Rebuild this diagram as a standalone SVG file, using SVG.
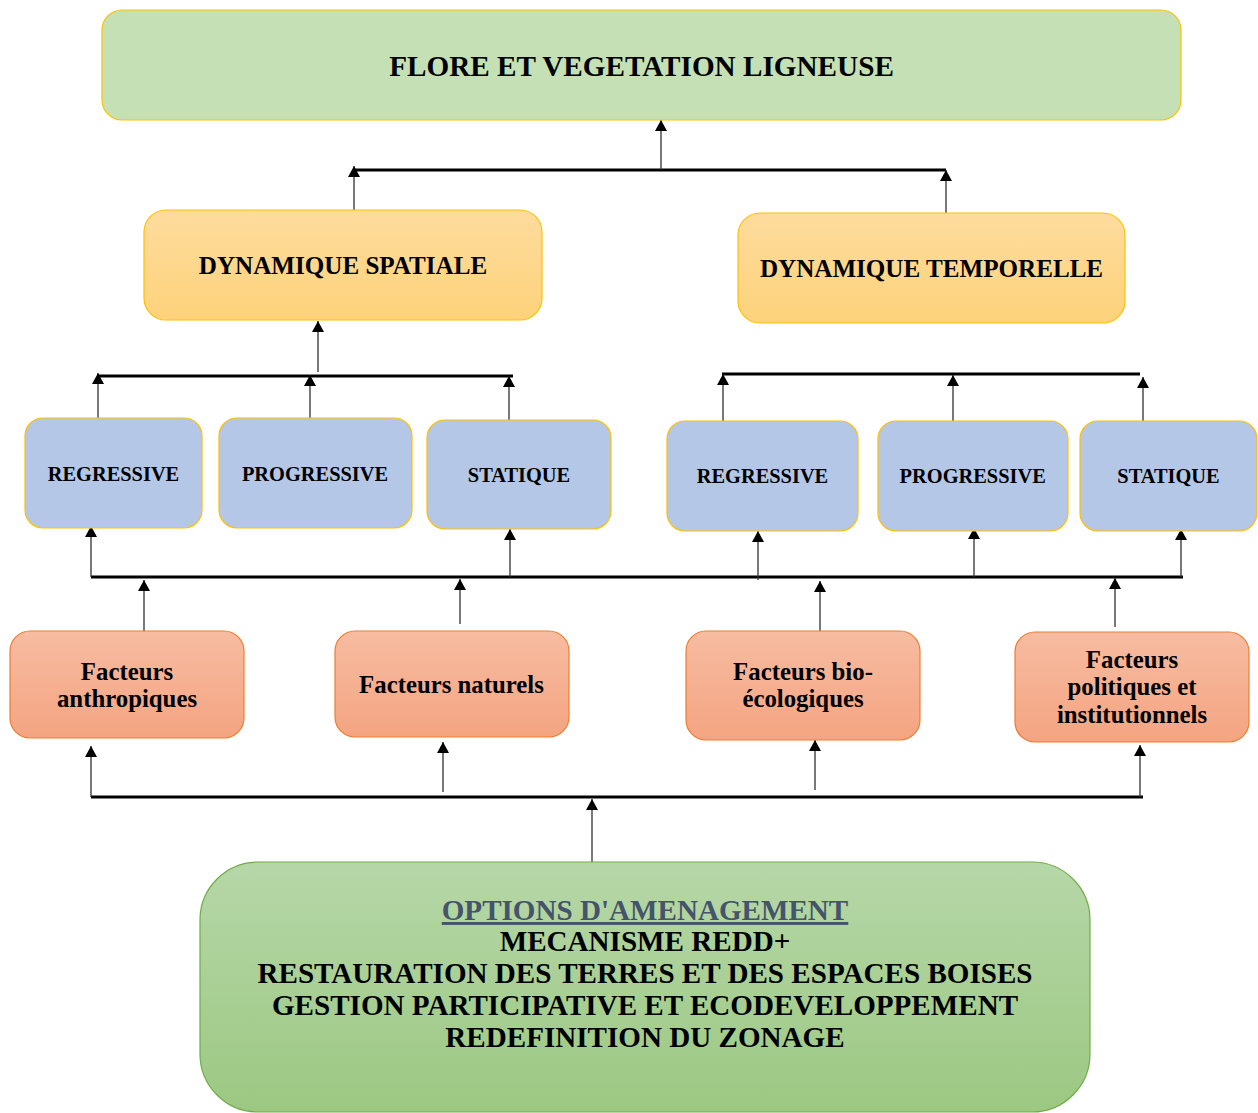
<svg xmlns="http://www.w3.org/2000/svg" width="1258" height="1113" viewBox="0 0 1258 1113">
<defs>
<linearGradient id="gOrange" x1="0" y1="0" x2="0" y2="1"><stop offset="0" stop-color="#fedc9e"/><stop offset="1" stop-color="#fdd27a"/></linearGradient>
<linearGradient id="gSalmon" x1="0" y1="0" x2="0" y2="1"><stop offset="0" stop-color="#f7bca1"/><stop offset="1" stop-color="#f4a481"/></linearGradient>
<linearGradient id="gGreen" x1="0" y1="0" x2="0" y2="1"><stop offset="0" stop-color="#b6d7a8"/><stop offset="1" stop-color="#9cc882"/></linearGradient>
<marker id="arr" viewBox="0 0 11 12" refX="11" refY="6" markerWidth="11" markerHeight="12" markerUnits="userSpaceOnUse" orient="auto"><path d="M0,0 L11,6 L0,12 z" fill="#000"/></marker>
<style>
.t{font-family:"Liberation Serif","Times New Roman",serif;font-weight:bold;fill:#000;text-anchor:middle}
.top{fill:#c5e0b4;stroke:#ffc000;stroke-width:1.2}
.dyn{fill:url(#gOrange);stroke:#ffc000;stroke-width:1.2}
.blue{fill:#b4c7e7;stroke:#ffc000;stroke-width:1.2}
.fac{fill:url(#gSalmon);stroke:#ed7d31;stroke-width:1.2}
.opt{fill:url(#gGreen);stroke:#70ad47;stroke-width:1.2}
.bus{stroke:#000;stroke-width:3.2;fill:none}
.ar{stroke:#303030;stroke-width:1.3;fill:none;marker-end:url(#arr)}
</style>
</defs>

<g id="connectors">
<line class="bus" x1="354" y1="170" x2="946" y2="170"/>
<line class="ar" x1="661" y1="170" x2="661" y2="120"/>
<line class="ar" x1="354" y1="216" x2="354" y2="166"/>
<line class="ar" x1="946" y1="220" x2="946" y2="170"/>

<line class="bus" x1="98" y1="376" x2="513" y2="376"/>
<line class="ar" x1="318" y1="372" x2="318" y2="321"/>
<line class="ar" x1="98" y1="422" x2="98" y2="373"/>
<line class="ar" x1="310" y1="425" x2="310" y2="375"/>
<line class="ar" x1="509" y1="426" x2="509" y2="376"/>

<line class="bus" x1="722" y1="374" x2="1140" y2="374"/>
<line class="ar" x1="723" y1="425" x2="723" y2="374"/>
<line class="ar" x1="953" y1="425" x2="953" y2="375"/>
<line class="ar" x1="1143" y1="427" x2="1143" y2="377"/>

<line class="bus" x1="91" y1="577" x2="1183" y2="577"/>
<line class="ar" x1="91" y1="577" x2="91" y2="526"/>
<line class="ar" x1="510" y1="577" x2="510" y2="529"/>
<line class="ar" x1="758" y1="580" x2="758" y2="531"/>
<line class="ar" x1="974" y1="577" x2="974" y2="528"/>
<line class="ar" x1="1181" y1="577" x2="1181" y2="529"/>
<line class="ar" x1="144" y1="631" x2="144" y2="580"/>
<line class="ar" x1="460" y1="624" x2="460" y2="579"/>
<line class="ar" x1="820" y1="631" x2="820" y2="581"/>
<line class="ar" x1="1115" y1="627" x2="1115" y2="578"/>

<line class="bus" x1="91" y1="797" x2="1143" y2="797"/>
<line class="ar" x1="91" y1="797" x2="91" y2="746"/>
<line class="ar" x1="443" y1="792" x2="443" y2="742"/>
<line class="ar" x1="815" y1="790" x2="815" y2="740"/>
<line class="ar" x1="1140" y1="797" x2="1140" y2="745"/>
<line class="ar" x1="592" y1="862" x2="592" y2="799"/>
</g>

<g id="n-flore">
<rect class="top" x="102" y="10" width="1079" height="110" rx="20"/>
<text class="t" x="641.5" y="76" font-size="29.2">FLORE ET VEGETATION LIGNEUSE</text>
</g>

<g id="n-spatiale">
<rect class="dyn" x="144" y="210" width="398" height="110" rx="22"/>
<text class="t" x="343" y="274" font-size="25.1">DYNAMIQUE SPATIALE</text>
</g>
<g id="n-temporelle">
<rect class="dyn" x="738" y="213" width="387" height="110" rx="22"/>
<text class="t" x="931.5" y="277" font-size="25.1">DYNAMIQUE TEMPORELLE</text>
</g>

<g id="n-s-regressive">
<rect class="blue" x="25" y="418" width="177" height="110" rx="18"/>
<text class="t" x="113.5" y="481" font-size="20.4">REGRESSIVE</text>
</g>
<g id="n-s-progressive">
<rect class="blue" x="219" y="418" width="193" height="110" rx="18"/>
<text class="t" x="315" y="481" font-size="20.4">PROGRESSIVE</text>
</g>
<g id="n-s-statique">
<rect class="blue" x="427" y="420" width="184" height="109" rx="18"/>
<text class="t" x="519" y="482" font-size="20.4">STATIQUE</text>
</g>
<g id="n-t-regressive">
<rect class="blue" x="667" y="421" width="191" height="110" rx="18"/>
<text class="t" x="762.5" y="483" font-size="20.4">REGRESSIVE</text>
</g>
<g id="n-t-progressive">
<rect class="blue" x="878" y="421" width="190" height="110" rx="18"/>
<text class="t" x="972.7" y="483" font-size="20.4">PROGRESSIVE</text>
</g>
<g id="n-t-statique">
<rect class="blue" x="1080" y="421" width="177" height="110" rx="18"/>
<text class="t" x="1168.5" y="483" font-size="20.4">STATIQUE</text>
</g>

<g id="n-anthropiques">
<rect class="fac" x="10" y="631" width="234" height="107" rx="20"/>
<text class="t" x="127" y="680" font-size="24.8">Facteurs</text>
<text class="t" x="127" y="707" font-size="24.8">anthropiques</text>
</g>
<g id="n-naturels">
<rect class="fac" x="335" y="631" width="234" height="106" rx="20"/>
<text class="t" x="451.5" y="693" font-size="24.8">Facteurs naturels</text>
</g>
<g id="n-bioecologiques">
<rect class="fac" x="686" y="631" width="234" height="109" rx="20"/>
<text class="t" x="803" y="680" font-size="24.8">Facteurs bio-</text>
<text class="t" x="803" y="707" font-size="24.8">écologiques</text>
</g>
<g id="n-politiques">
<rect class="fac" x="1015" y="632" width="234" height="110" rx="20"/>
<text class="t" x="1132" y="668" font-size="24.8">Facteurs</text>
<text class="t" x="1132" y="695" font-size="24.8">politiques et</text>
<text class="t" x="1132" y="723" font-size="24.8">institutionnels</text>
</g>

<g id="n-options">
<rect class="opt" x="200" y="862" width="890" height="250" rx="58"/>
<text class="t" x="645" y="920" font-size="29.1" style="fill:#44546a" text-decoration="underline">OPTIONS D'AMENAGEMENT</text>
<text class="t" x="645" y="951" font-size="29.1">MECANISME REDD+</text>
<text class="t" x="645" y="983" font-size="29.1">RESTAURATION DES TERRES ET DES ESPACES BOISES</text>
<text class="t" x="645" y="1015" font-size="29.1">GESTION PARTICIPATIVE ET ECODEVELOPPEMENT</text>
<text class="t" x="645" y="1047" font-size="29.1">REDEFINITION DU ZONAGE</text>
</g>
</svg>
